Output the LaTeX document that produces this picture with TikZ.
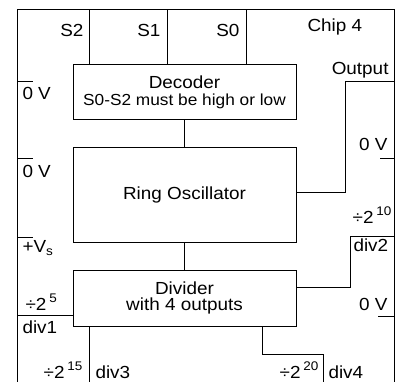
\documentclass[tikz,border=0pt]{standalone}
\usepackage{fontspec}
\setmainfont{Liberation Sans}[FakeStretch=1.08]
\newcommand\supx[1]{\,\raisebox{7.5pt}{\fontsize{12.5}{12.5}\selectfont #1}}
\newcommand\subx[1]{\raisebox{-3pt}{\fontsize{12.5}{12.5}\selectfont #1}}
\begin{document}
\begin{tikzpicture}[x=1pt,y=-1pt,line width=1pt,
  box/.style={draw, minimum width=223pt, inner sep=0pt, align=center, font=\fontsize{17.5}{18}\selectfont},
  lbl/.style={inner sep=0pt, font=\fontsize{17.5}{18}\selectfont}]
\useasboundingbox (0,0) rectangle (401,382);
% chip outline
\coordinate (tl) at (17,10);
\coordinate (tr) at (394,10);
\coordinate (bl) at (17,382);
\coordinate (br) at (394,382);
\draw (bl) -- (tl) -- (tr) -- (br);
% blocks
\node[box, minimum height=55pt] (dec) at (184.5,92.5) {Decoder\\[-1pt]{\fontsize{16}{16}\selectfont S0-S2 must be high or low}};
\node[box, minimum height=94pt] (osc) at (184.5,195) {Ring Oscillator};
\node[box, minimum height=56pt] (div) at (184.5,298) {Divider\\[-2pt]with 4 outputs};
\draw (dec) -- (osc);
\draw (osc) -- (div);
% select inputs
\coordinate (s2) at (89,10);
\coordinate (s1) at (167,10);
\coordinate (s0) at (246,10);
\draw (s2) -- (s2 |- dec.north);
\draw (s1) -- (s1 |- dec.north);
\draw (s0) -- (s0 |- dec.north);
\node[lbl, anchor=base east] (ls2) at (84,37) {S2};
\node[lbl, anchor=base east] (ls1) at (161,37) {S1};
\node[lbl, anchor=base east] (ls0) at (240,37) {S0};
\node[lbl, anchor=base west] (chip) at (307,32) {Chip 4};
% left pins
\coordinate (pa) at (17,82);
\coordinate (pb) at (17,159);
\coordinate (pc) at (17,237);
\draw (pa) -- ++(16,0);
\draw (pb) -- ++(16,0);
\draw (pc) -- ++(16,0);
\node[lbl, anchor=base west] (l0a) at (22,100) {0 V};
\node[lbl, anchor=base west] (l0b) at (22,178) {0 V};
\node[lbl, anchor=base west] (lvs) at (22,252) {+V\subx{s}};
% div1
\coordinate (d1) at (17,315);
\draw (d1) -- (d1 -| div.west);
\node[lbl, anchor=base west] (ld1a) at (25,310) {÷2\supx{5}};
\node[lbl, anchor=base west] (ld1b) at (22,333) {div1};
% div3
\coordinate (d3) at (89,382);
\draw (d3 |- div.south) -- (d3);
\node[lbl, anchor=base east] (ld3a) at (83,378) {÷2\supx{15}};
\node[lbl, anchor=base west] (ld3b) at (95,378) {div3};
% output
\coordinate (out) at (394,82);
\coordinate (outbend) at (345,82);
\draw ([yshift=3pt]osc.east) -| (outbend) -- (out);
\node[lbl, anchor=base east] (lout) at (389,75) {Output};
% right 0 V pins
\coordinate (ra) at (394,159);
\coordinate (rb) at (394,316);
\draw (ra) -- ++(-14,0);
\draw (rb) -- ++(-16,0);
\node[lbl, anchor=base east] (r0a) at (388,150) {0 V};
\node[lbl, anchor=base east] (r0b) at (388,310) {0 V};
% div2
\coordinate (d2) at (394,236);
\coordinate (d2b) at (350,236);
\draw ([yshift=11pt]div.east) -| (d2b) -- (d2);
\node[lbl, anchor=base east] (ld2a) at (392,223) {÷2\supx{10}};
\node[lbl, anchor=base west] (ld2b) at (353,251) {div2};
% div4
\coordinate (d4) at (323,382);
\coordinate (d4b) at (323,354);
\draw ([xshift=77.5pt]div.south) |- (d4b) -- (d4);
\node[lbl, anchor=base east] (ld4a) at (319,378) {÷2\supx{20}};
\node[lbl, anchor=base west] (ld4b) at (328,378) {div4};
\end{tikzpicture}
\end{document}
